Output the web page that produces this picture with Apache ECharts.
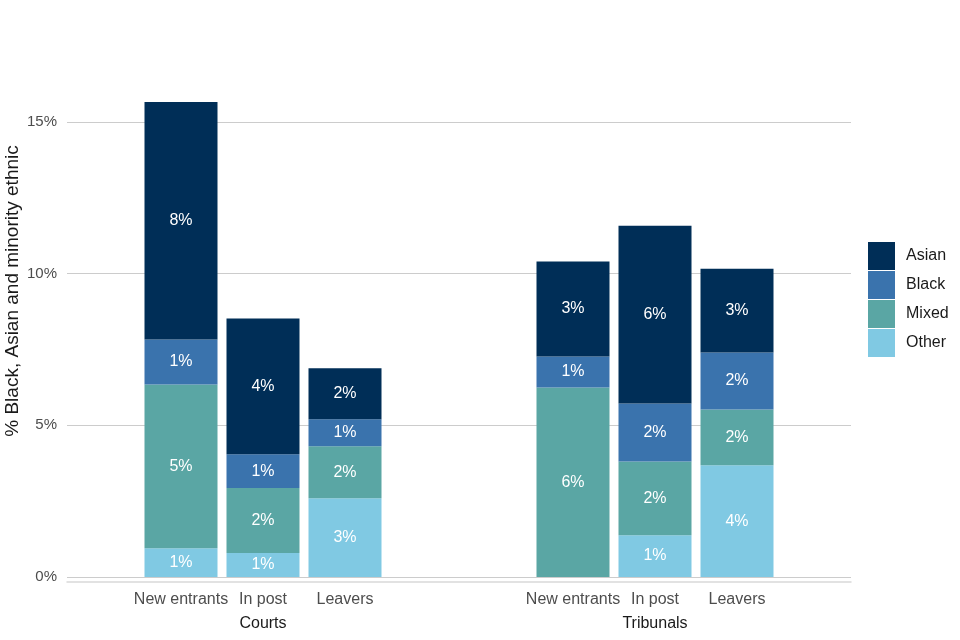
<!DOCTYPE html>
<html>
<head>
<meta charset="utf-8">
<script src="https://cdn.jsdelivr.net/npm/echarts@6/dist/echarts.min.js"></script>
<style>html,body{margin:0;padding:0;background:#fff}#c{width:960px;height:640px}</style>
</head>
<body>
<div id="c"></div>
<script>
const categories = ['New entrants', 'In post', 'Leavers'];
const groups = ['Courts', 'Tribunals'];
const yTicks = [0, 5, 10, 15];
// values in % per group, order: New entrants, In post, Leavers
const courtsOther = [0.95, 0.79, 2.60];
const courtsMixed = [5.40, 2.14, 1.71];
const courtsBlack = [1.48, 1.12, 0.89];
const courtsAsian = [7.83, 4.47, 1.68];
const tribOther = [0, 1.38, 3.68];
const tribMixed = [6.25, 2.43, 1.84];
const tribBlack = [1.02, 1.91, 1.88];
const tribAsian = [3.13, 5.86, 2.76];

const colors = {Asian: '#002e57', Black: '#3a73ad', Mixed: '#5aa6a4', Other: '#80c9e3'};
const FONT = 'Liberation Sans, Arial, sans-serif';

const chart = echarts.init(document.getElementById('c'), null, {renderer: 'canvas'});

function mk(name, data, gi) {
  return {
    type: 'bar', name: name, stack: 'g' + gi, data: data,
    xAxisIndex: gi + 1, yAxisIndex: gi + 1,
    barWidth: 73,
    itemStyle: {color: colors[name]},
    label: {
      show: true, position: 'inside', color: '#ffffff', fontSize: 16, fontFamily: FONT,
      formatter: p => (p.value > 0 ? Math.round(p.value) + '%' : '')
    },
    emphasis: {disabled: true}
  };
}

const barGridBase = {top: 91.67, bottom: 63, width: 246, outerBoundsMode: 'none', containLabel: false};
const option = {
  animation: false,
  backgroundColor: '#ffffff',
  textStyle: {fontFamily: FONT},
  grid: [
    {left: 67, right: 109, top: 122, bottom: 63, outerBoundsMode: 'none', containLabel: false},
    Object.assign({left: 140}, barGridBase),
    Object.assign({left: 532}, barGridBase)
  ],
  legend: {
    orient: 'vertical', left: 868, top: 242, padding: 0,
    itemWidth: 27, itemHeight: 28, itemGap: 1, icon: 'rect',
    data: ['Asian', 'Black', 'Mixed', 'Other'],
    textStyle: {fontSize: 16, color: '#1a1a1a', fontFamily: FONT, padding: [0, 0, 0, 6]},
    selectedMode: false
  },
  xAxis: [
    {gridIndex: 0, type: 'category', data: [''], offset: 5,
     axisLine: {show: true, onZero: false, lineStyle: {color: '#d9d9d9', width: 1.5}},
     axisTick: {show: false}, axisLabel: {show: false}, splitLine: {show: false}},
    {gridIndex: 1, type: 'category', data: categories,
     axisLine: {show: false}, axisTick: {show: false},
     axisLabel: {interval: 0, margin: 15, fontSize: 16, color: '#4d4d4d', fontFamily: FONT},
     name: groups[0], nameLocation: 'middle', nameGap: 39,
     nameTextStyle: {fontSize: 16, color: '#1a1a1a', fontFamily: FONT}},
    {gridIndex: 2, type: 'category', data: categories,
     axisLine: {show: false}, axisTick: {show: false},
     axisLabel: {interval: 0, margin: 15, fontSize: 16, color: '#4d4d4d', fontFamily: FONT},
     name: groups[1], nameLocation: 'middle', nameGap: 39,
     nameTextStyle: {fontSize: 16, color: '#1a1a1a', fontFamily: FONT}}
  ],
  yAxis: [
    {gridIndex: 0, type: 'value', min: yTicks[0], max: yTicks[yTicks.length - 1], interval: 5,
     axisLine: {show: false}, axisTick: {show: false},
     axisLabel: {formatter: v => v + '%', fontSize: 15, color: '#4d4d4d', margin: 10, fontFamily: FONT},
     splitLine: {show: true, lineStyle: {color: '#cccccc', width: 1}}},
    {gridIndex: 1, type: 'value', min: 0, max: 16, show: false, splitLine: {show: false}},
    {gridIndex: 2, type: 'value', min: 0, max: 16, show: false, splitLine: {show: false}}
  ],
  graphic: [{
    type: 'text', x: 13, y: 291, rotation: Math.PI / 2,
    style: {text: '% Black, Asian and minority ethnic', fontSize: 19, fill: '#1a1a1a',
            fontFamily: FONT, align: 'center', verticalAlign: 'middle'}
  }],
  series: [
    mk('Other', courtsOther, 0), mk('Mixed', courtsMixed, 0), mk('Black', courtsBlack, 0), mk('Asian', courtsAsian, 0),
    mk('Other', tribOther, 1), mk('Mixed', tribMixed, 1), mk('Black', tribBlack, 1), mk('Asian', tribAsian, 1)
  ]
};
chart.setOption(option);
</script>
</body>
</html>
